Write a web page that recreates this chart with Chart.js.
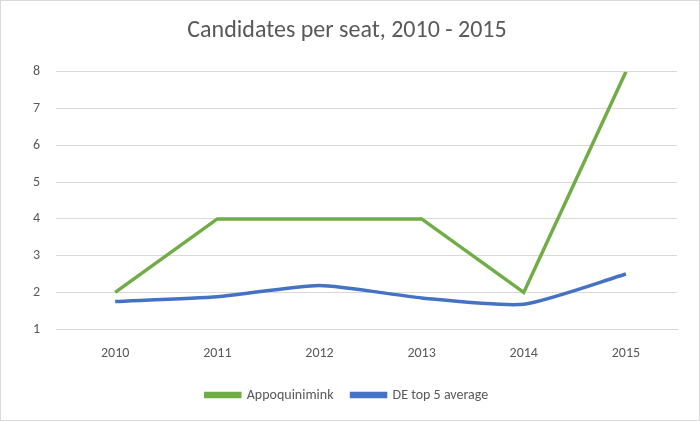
<!DOCTYPE html>
<html>
<head>
<meta charset="utf-8">
<script src="https://cdn.jsdelivr.net/npm/chart.js@4"></script>
<style>
  html,body{margin:0;padding:0;background:#fff;}
  #wrap{position:absolute;left:0;top:0;width:698px;height:419px;border:1px solid #d9d9d9;}
</style>
</head>
<body>
<div id="wrap"><canvas id="cv"></canvas></div>
<script>
// 데이터
const YEARS = ["2010","2011","2012","2013","2014","2015"];
const APPO = [2, 4, 4, 4, 2, 8];
const DE_TOP5 = [1.75, 1.88, 2.19, 1.85, 1.68, 2.5];

const FONT = "'Carlito','Liberation Sans','DejaVu Sans',sans-serif";

new Chart(document.getElementById("cv"), {
  type: "line",
  data: {
    labels: YEARS,
    datasets: [
      { label: "Appoquinimink", data: APPO, borderColor: "#70ad47", backgroundColor: "#70ad47",
        borderWidth: 3.5, pointRadius: 0, tension: 0 },
      { label: "DE top 5 average", data: DE_TOP5, borderColor: "#4472c4", backgroundColor: "#4472c4",
        borderWidth: 3.5, pointRadius: 0, tension: 0.2 }
    ]
  },
  options: {
    responsive: true,
    maintainAspectRatio: false,
    animation: false,
    layout: { padding: { left: 16, right: 22, top: 10, bottom: 8 } },
    scales: {
      x: {
        offset: true,
        grid: { display: false },
        border: { color: "#d9d9d9" },
        ticks: { color: "#595959", font: { family: FONT, size: 14 }, padding: 8 }
      },
      y: {
        min: 1, max: 8,
        grid: { color: "#d9d9d9" },
        border: { display: false },
        ticks: { stepSize: 1, color: "#595959", font: { family: FONT, size: 14 }, padding: 16 }
      }
    },
    plugins: {
      title: { display: true, text: "Candidates per seat, 2010 - 2015", color: "#595959",
        font: { family: FONT, size: 24, weight: "normal" }, padding: { top: 6, bottom: 26 } },
      legend: { position: "bottom",
        labels: { color: "#595959", font: { family: FONT, size: 14 }, boxWidth: 34, boxHeight: 3, padding: 18 } },
      tooltip: { enabled: false }
    }
  }
});
</script>
</body>
</html>
